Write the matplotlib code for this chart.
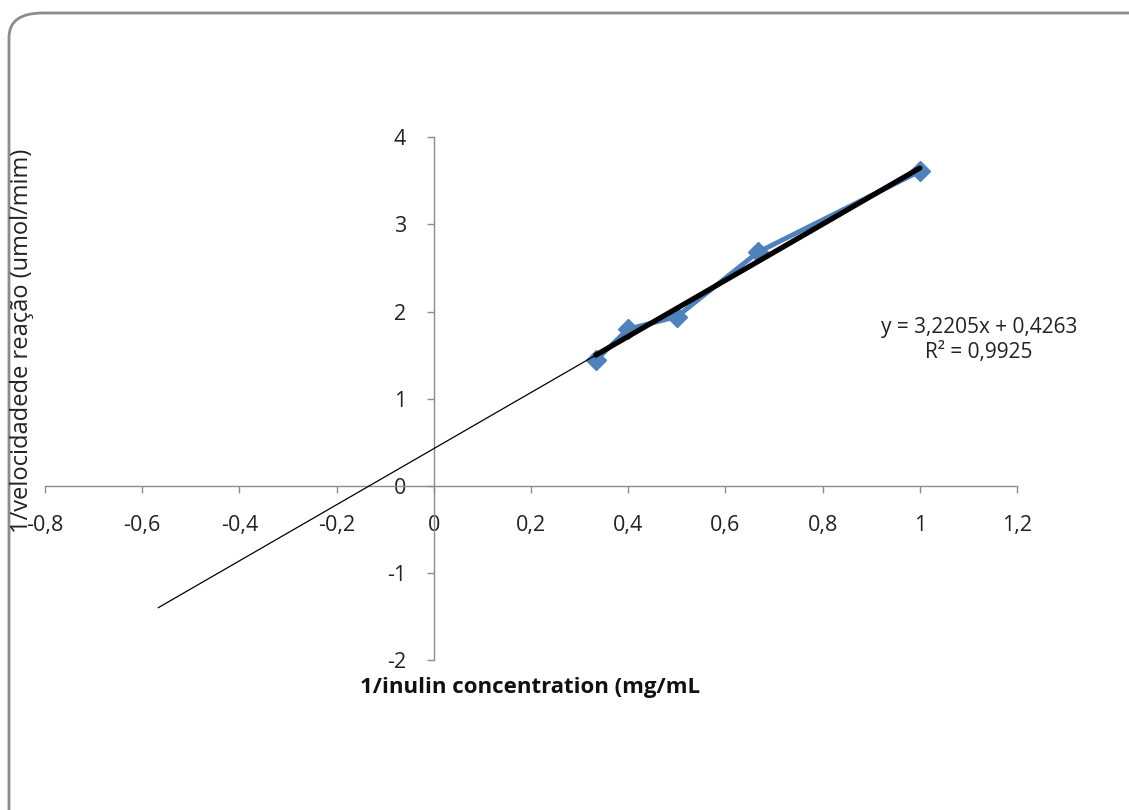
import matplotlib
matplotlib.use("Agg")
import matplotlib.pyplot as plt
import numpy as np
from matplotlib.patches import FancyBboxPatch

# Data
x_vals = [1/3, 0.4, 0.5, 2/3, 1.0]
y_vals = [1.44, 1.80, 1.94, 2.68, 3.61]
slope = 3.2205
intercept = 0.4263
r2 = 0.9925
trend_back_start = -0.567
x_ticks = [-0.8, -0.6, -0.4, -0.2, 0, 0.2, 0.4, 0.6, 0.8, 1.0, 1.2]
x_ticklabels = ["-0,8", "-0,6", "-0,4", "-0,2", "0", "0,2", "0,4", "0,6", "0,8", "1", "1,2"]
y_ticks = [-2, -1, 0, 1, 2, 3, 4]
y_ticklabels = ["-2", "-1", "0", "1", "2", "3", "4"]
xlabel = "1/inulin concentration (mg/mL"
ylabel = "1/velocidadede reação (umol/mim)"
eq_text = "y = 3,2205x + 0,4263\nR² = 0,9925"

plt.rcParams['font.family'] = ['Open Sans', 'DejaVu Sans']

W, H = 1129, 810
fig = plt.figure(figsize=(W/100, H/100), dpi=100)

# rounded border
border = FancyBboxPatch((9/W, -0.2), (W + 40)/W, (H - 13)/H + 0.2,
                        boxstyle="round,pad=0,rounding_size=0.03",
                        transform=fig.transFigure, facecolor='white',
                        edgecolor='#8c8c8c', linewidth=2, zorder=-10)
fig.patches.append(border)

ax = fig.add_axes([45/W, (H - 660)/H, (1017 - 45)/W, (660 - 137.3)/H])
ax.set_facecolor('none')
ax.set_xlim(-0.8, 1.2)
ax.set_ylim(-2, 4)

for s in ['top', 'right']:
    ax.spines[s].set_visible(False)
ax.spines['left'].set_position(('data', 0))
ax.spines['bottom'].set_position(('data', 0))
for s in ['left', 'bottom']:
    ax.spines[s].set_color('#8c8c8c')
    ax.spines[s].set_linewidth(1.0)

ax.set_xticks(x_ticks)
ax.set_xticklabels(x_ticklabels)
ax.set_yticks(y_ticks)
ax.set_yticklabels(y_ticklabels)
ax.tick_params(axis='x', direction='out', length=5, width=1, color='#8c8c8c',
               labelsize=15.5, pad=16, labelcolor='#222222')
ax.tick_params(axis='y', direction='out', length=5, width=1, color='#8c8c8c',
               labelsize=15.5, pad=15, labelcolor='#222222')

# series
ax.plot(x_vals, y_vals, color='#4F81BD', linewidth=3.5, marker='D', markersize=10.5,
        markerfacecolor='#4F81BD', markeredgecolor='#4F81BD', zorder=3)

# trendlines
xt_thin = np.array([trend_back_start, max(x_vals)])
ax.plot(xt_thin, slope * xt_thin + intercept, color='black', linewidth=0.9, zorder=4)
xt_thick = np.array([min(x_vals), max(x_vals)])
ax.plot(xt_thick, slope * xt_thick + intercept, color='black', linewidth=3.8,
        solid_capstyle='round', zorder=5)

# equation
fig.text(979/W, 1 - 340/H, eq_text, ha='center', va='center', fontsize=15,
         color='#222222', linespacing=1.3)

# axis labels
fig.text(530/W, 1 - 688/H, xlabel, ha='center', va='center', fontsize=16,
         fontweight='bold', color='#111111')
fig.text(22/W, 1 - 341/H, ylabel, ha='center', va='center', fontsize=17,
         rotation=90, color='#222222')

fig.savefig('out.png', dpi=100)
